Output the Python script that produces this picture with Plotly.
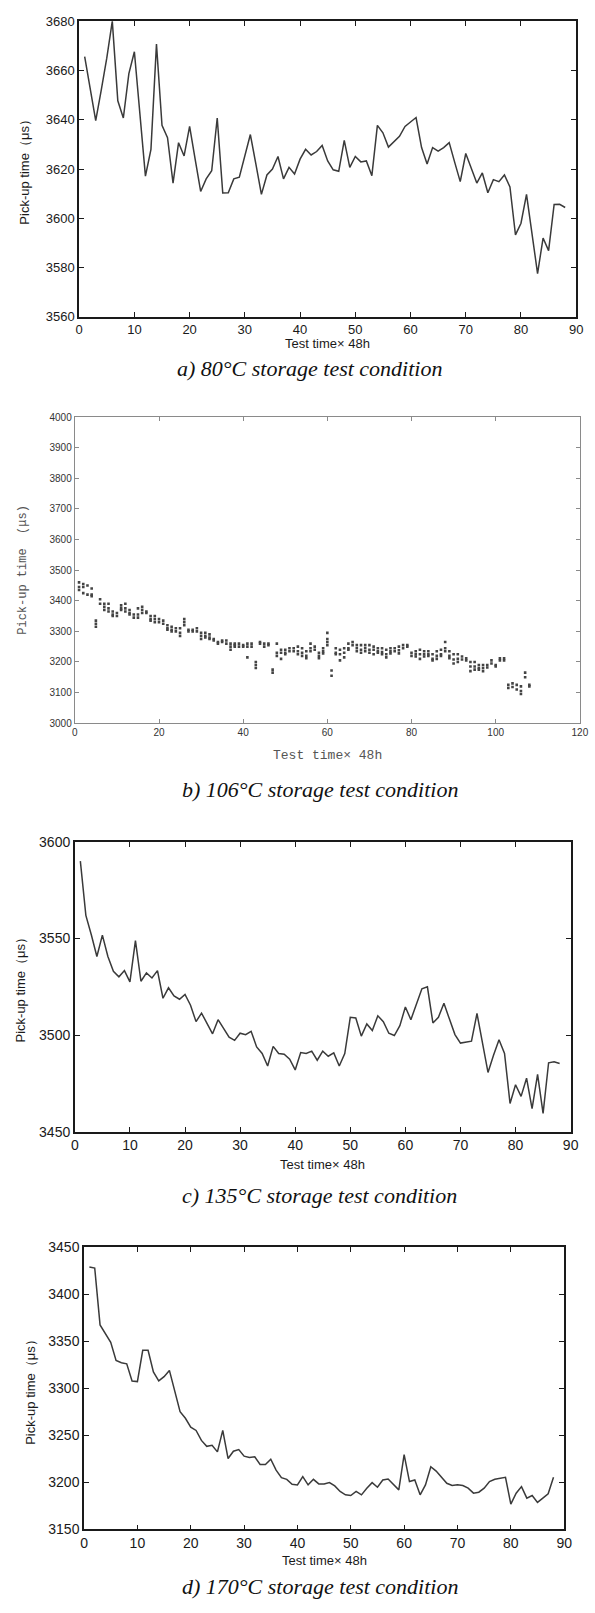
import plotly.graph_objects as go

W, H = 595, 1613

# ---------------- data ----------------
# a) 80°C
a_x = list(range(1, 89))
a_y = [3665.6, 3652, 3639.6, 3652, 3665, 3680, 3647.7, 3640.7, 3658.7, 3667.6,
       3642, 3617.1, 3628, 3670.7, 3637.7, 3632.7, 3614.3, 3630.7, 3625.3, 3637.3,
       3624, 3610.9, 3616, 3619.3, 3640.7, 3610.3, 3610.4, 3616, 3616.7, 3625,
       3634, 3622, 3609.7, 3617.6, 3620, 3625.1, 3616, 3620.7, 3618, 3624,
       3628, 3625.7, 3627.1, 3629.6, 3623.3, 3619.7, 3619.1, 3631.6, 3620.7, 3625.1,
       3622.9, 3623.3, 3617.3, 3637.7, 3634.7, 3628.9, 3631.3, 3633.3, 3637.3, 3639.3,
       3640.9, 3628.7, 3622, 3628.7, 3627.3, 3628.7, 3630.7, 3622.7, 3614.9, 3626.3,
       3620, 3614.3, 3618.4, 3610.4, 3615.7, 3614.9, 3617.6, 3612.7, 3593.3, 3598,
       3609.7, 3593.3, 3577.6, 3592, 3586.9, 3605.6, 3605.7, 3604.4]

# b) 106°C (several readings per test time)
b_x = list(range(1, 109))
b_vals = [
    [3460, 3445, 3435], [3455, 3445, 3425], [3450, 3420], [3440, 3420, 3415], [3335, 3325, 3315],
    [3405, 3390], [3390, 3380, 3370], [3390, 3375, 3365], [3365, 3355, 3350], [3360, 3350],
    [3385, 3375, 3370], [3390, 3375, 3365], [3370, 3360, 3355], [3355, 3345], [3375, 3355, 3345],
    [3380, 3370, 3360], [3365, 3360], [3350, 3340, 3335], [3350, 3340, 3330], [3340, 3330],
    [3335, 3325], [3320, 3310, 3305], [3315, 3305, 3300], [3310, 3300], [3310, 3295, 3285],
    [3340, 3330, 3320], [3305, 3300], [3305, 3300], [3310, 3300], [3295, 3285, 3275],
    [3295, 3285, 3280], [3290, 3280, 3275], [3275, 3270], [3265, 3260], [3270, 3265],
    [3270, 3260], [3260, 3250, 3240], [3260, 3255, 3250], [3260, 3250], [3255, 3250],
    [3260, 3250, 3215], [3260, 3250], [3200, 3190, 3180], [3265, 3260], [3260, 3250],
    [3260, 3255], [3175, 3165], [3260, 3230, 3220], [3240, 3230, 3210], [3240, 3230, 3225],
    [3245, 3235], [3245, 3235], [3250, 3235, 3225], [3245, 3230, 3220], [3235, 3220, 3212],
    [3260, 3245, 3235], [3250, 3240], [3230, 3220, 3212], [3245, 3235, 3228], [3295, 3275, 3265, 3255],
    [3172, 3155], [3245, 3230, 3225], [3240, 3225, 3205], [3245, 3230, 3215], [3260, 3245, 3240],
    [3265, 3255], [3255, 3245, 3235], [3255, 3240, 3230], [3255, 3245, 3235], [3255, 3240, 3230],
    [3250, 3240, 3225], [3245, 3235, 3230], [3245, 3232, 3225], [3240, 3225, 3215], [3245, 3235, 3228],
    [3245, 3235], [3250, 3238, 3228], [3255, 3245], [3255, 3250], [3230, 3220],
    [3235, 3225, 3218], [3240, 3225, 3210], [3235, 3225, 3218], [3235, 3225, 3220], [3225, 3210, 3205],
    [3235, 3220, 3210], [3240, 3225, 3220], [3265, 3245, 3235], [3235, 3220, 3212], [3225, 3208, 3195],
    [3225, 3210, 3200], [3218, 3208], [3212, 3205], [3200, 3185, 3170], [3200, 3185, 3175],
    [3190, 3180, 3175], [3190, 3180, 3170], [3190, 3182], [3205, 3195], [3185, 3190],
    [3212, 3205], [3212, 3205], [3125, 3115], [3130, 3118], [3125, 3110],
    [3120, 3105, 3095], [3165, 3150], [3125, 3120],
]

# c) 135°C
c_x = list(range(1, 89))
c_y = [3590.1, 3562, 3551.8, 3540.7, 3551.8, 3540.7, 3533, 3530.2, 3533.4, 3527.6,
       3548.9, 3527.9, 3532.2, 3529.6, 3533.4, 3519.1, 3524.5, 3520.3, 3518.6, 3521.1,
       3515.5, 3507, 3511.4, 3506.1, 3500.7, 3508, 3503.2, 3499, 3497.3, 3501,
       3500.2, 3502, 3493.9, 3490.5, 3484, 3494.2, 3490.5, 3490.1, 3487.6, 3482,
       3491, 3490.5, 3491.7, 3487, 3491.7, 3489.1, 3490.8, 3484, 3490.5, 3509.2,
       3508.9, 3499.5, 3505.8, 3502.4, 3510, 3507, 3501, 3499.8, 3504.9, 3514.6,
       3508, 3516, 3524, 3525, 3506.3, 3509.2, 3516.5, 3508.3, 3500.3, 3495.9,
       3496.4, 3496.9, 3511.2, 3495.9, 3480.7, 3489.6, 3497.6, 3490.5, 3464.6, 3474.3,
       3468.3, 3477.7, 3462, 3479.7, 3459.5, 3485.7, 3486.2, 3485.3]

# d) 170°C
d_x = list(range(1, 89))
d_y = [3429, 3427.9, 3367.5, 3357.7, 3349, 3329.6, 3327.2, 3326.1, 3307.9, 3307.2,
       3340.5, 3340.5, 3317.4, 3307.9, 3312.5, 3319.1, 3297.4, 3275.3, 3268.2, 3258.8,
       3255.3, 3244.7, 3238.4, 3239.5, 3232.5, 3255.3, 3225.4, 3233.2, 3234.9, 3227.9,
       3226.5, 3227.2, 3219.1, 3219.1, 3224.7, 3213.1, 3205.1, 3203.3, 3198.1, 3197.4,
       3206.1, 3197.4, 3203.3, 3198.4, 3198.4, 3199.8, 3196.3, 3190.4, 3186.8, 3186.1,
       3190.4, 3186.8, 3193.9, 3199.8, 3194.9, 3202.6, 3203.7, 3197.4, 3192.1, 3229.6,
       3200.9, 3202.6, 3186.8, 3197.4, 3216.7, 3212.1, 3206.1, 3199.1, 3196.7, 3197.4,
       3196.7, 3193.9, 3188.6, 3189.6, 3193.9, 3200.9, 3203.3, 3204.4, 3205.4, 3177,
       3188.6, 3195.6, 3183.3, 3186.1, 3178.8, 3183.3, 3187.9, 3205.4]

y_title = "Pick-up time（μs）"
x_title = "Test time× 48h"
captions = ["a) 80°C storage test condition", "b) 106°C storage test condition",
            "c) 135°C storage test condition", "d) 170°C storage test condition"]

# ---------------- layout helpers ----------------
def dx(l, r):
    return [l / W, r / W]

def dy(t, b):
    return [1 - b / H, 1 - t / H]

def px(x):
    return x / W

def py(y):
    return 1 - y / H

def dark_axis(fs):
    return dict(showline=True, linecolor="#1a1a1a", linewidth=1.6, mirror="ticks",
                ticks="inside", ticklen=5, tickwidth=1.2, tickcolor="#1a1a1a",
                showgrid=False, zeroline=False,
                tickfont=dict(family="Arial", size=fs, color="#1a1a1a"))

gray_axis = dict(showline=True, linecolor="#8a8a8a", linewidth=1.2, mirror="ticks",
                 ticks="inside", ticklen=4, tickwidth=1, tickcolor="#8a8a8a",
                 showgrid=False, zeroline=False,
                 tickfont=dict(family="Arial", size=10, color="#333"))

line_style = dict(color="#3a3a3a", width=1.5)

fig = go.Figure()
fig.add_trace(go.Scatter(x=a_x, y=a_y, mode="lines", line=line_style, xaxis="x", yaxis="y"))

bx_flat, by_flat = [], []
for xv, vals in zip(b_x, b_vals):
    for v in vals:
        bx_flat.append(xv)
        by_flat.append(v)
fig.add_trace(go.Scatter(x=bx_flat, y=by_flat, mode="markers",
                         marker=dict(symbol="square", size=2.6, color="#444"),
                         xaxis="x2", yaxis="y2"))
fig.add_trace(go.Scatter(x=c_x, y=c_y, mode="lines", line=line_style, xaxis="x3", yaxis="y3"))
fig.add_trace(go.Scatter(x=d_x, y=d_y, mode="lines", line=line_style, xaxis="x4", yaxis="y4"))

# panel boxes (pixels): left, right, top, bottom
A = (76.7, 584, 13.3, 312)
B = (72.3, 587.7, 413.3, 722.3)
C = (72.3, 578.3, 842.3, 1135)
D = (81.7, 571.7, 1251.7, 1536.7)

fig.update_layout(
    width=W, height=H, margin=dict(l=0, r=0, t=0, b=0),
    paper_bgcolor="white", plot_bgcolor="white", showlegend=False,
    xaxis=dict(domain=dx(A[0], A[1]), range=[0, 90], tickvals=list(range(0, 91, 10)),
               anchor="y", **dark_axis(13)),
    yaxis=dict(domain=dy(A[2], A[3]), range=[3560, 3680], tickvals=list(range(3560, 3681, 20)),
               anchor="x", **dark_axis(13)),
    xaxis2=dict(domain=dx(B[0], B[1]), range=[0, 120], tickvals=list(range(0, 121, 20)),
                anchor="y2", **gray_axis),
    yaxis2=dict(domain=dy(B[2], B[3]), range=[3000, 4000], tickvals=list(range(3000, 4001, 100)),
                anchor="x2", **gray_axis),
    xaxis3=dict(domain=dx(C[0], C[1]), range=[0, 90], tickvals=list(range(0, 91, 10)),
                anchor="y3", **dark_axis(14)),
    yaxis3=dict(domain=dy(C[2], C[3]), range=[3450, 3600], tickvals=list(range(3450, 3601, 50)),
                anchor="x3", **dark_axis(14)),
    xaxis4=dict(domain=dx(D[0], D[1]), range=[0, 90], tickvals=list(range(0, 91, 10)),
                anchor="y4", **dark_axis(14)),
    yaxis4=dict(domain=dy(D[2], D[3]), range=[3150, 3450], tickvals=list(range(3150, 3451, 50)),
                anchor="x4", **dark_axis(14)),
)

ann = []
sans = dict(family="Arial", size=13, color="#1a1a1a")
mono = dict(family="Liberation Mono", size=12, color="#555")
serif = dict(family="Liberation Serif", size=22, color="#111")

# y titles
for (xp, box, f, txt) in [(20, A, sans, y_title), (20, B, mono, "Pick-up time  (μs)"),
                          (17, C, sans, y_title), (27, D, sans, y_title)]:
    ann.append(dict(x=px(xp), y=py((box[2] + box[3]) / 2), text=txt, textangle=-90,
                    showarrow=False, xref="paper", yref="paper",
                    xanchor="center", yanchor="middle", font=f))
# x titles
for (yp, box, f) in [(339, A, sans), (755, B, dict(family="Liberation Mono", size=13, color="#555")),
                     (1168, C, sans), (1568, D, sans)]:
    ann.append(dict(x=px((box[0] + box[1]) / 2), y=py(yp), text=x_title, showarrow=False,
                    xref="paper", yref="paper", xanchor="center", yanchor="middle", font=f))
# captions
for xp, yp, txt in zip([312, 322, 322, 322], [364, 789, 1199, 1594], captions):
    ann.append(dict(x=px(xp), y=py(yp), text="<i>" + txt + "</i>", showarrow=False,
                    xref="paper", yref="paper", xanchor="center", yanchor="middle", font=serif))

fig.update_layout(annotations=ann)
fig.write_html("out.html")
